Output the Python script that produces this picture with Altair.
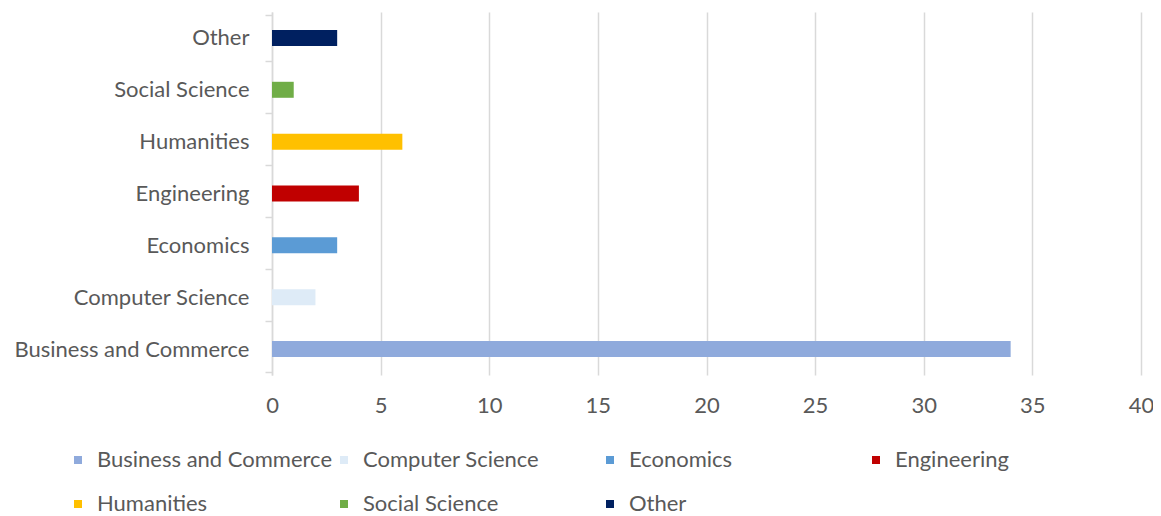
import altair as alt
import pandas as pd

categories = ["Business and Commerce", "Computer Science", "Economics", "Engineering",
              "Humanities", "Social Science\u00a0", "Other"]
values = [34, 2, 3, 4, 6, 1, 3]
colors = ["#8FAADC", "#DEEBF7", "#5B9BD5", "#C00000", "#FFC000", "#70AD47", "#002060"]
x_ticks = [0, 5, 10, 15, 20, 25, 30, 35, 40]

df = pd.DataFrame({"category": categories, "value": values})

FONT = "Lato"
TXT = "#595959"
GRID = "#d9d9d9"
FS = 22

chart = alt.Chart(df).mark_bar(size=16).encode(
    x=alt.X("value:Q",
            scale=alt.Scale(domain=[0, 40], nice=False),
            axis=alt.Axis(values=x_ticks, title=None, grid=True, gridColor=GRID, gridWidth=1.5,
                          domain=False, ticks=False, labelFontSize=FS, labelColor=TXT,
                          labelFont=FONT, labelPadding=20, labelFlush=False)),
    y=alt.Y("category:N", sort=list(reversed(categories)),
            axis=alt.Axis(title=None, tickBand="extent", ticks=True, tickSize=7, tickColor=GRID,
                          tickWidth=1.5, domainColor=GRID, domainWidth=1.5, labelPadding=16,
                          labelFontSize=FS, labelColor=TXT, labelFont=FONT, grid=False,
                          labelLimit=400)),
    color=alt.Color("category:N",
                    scale=alt.Scale(domain=categories, range=colors),
                    legend=alt.Legend(title=None, orient="none", legendX=-205, legendY=437,
                                      direction="horizontal", columns=4, gridAlign="all",
                                      symbolType="square", symbolSize=64, symbolStrokeWidth=0,
                                      labelFontSize=FS, labelFont=FONT, labelColor=TXT,
                                      labelOffset=8, rowPadding=22, columnPadding=0,
                                      labelLimit=400)),
).properties(
    width=869, height=363,
    autosize=alt.AutoSizeParams(type="none"),
    padding={"left": 264, "top": 4, "right": 12, "bottom": 141},
).configure_view(stroke=None)

chart.save("out.html", embed_options={"renderer": "svg", "actions": False})
